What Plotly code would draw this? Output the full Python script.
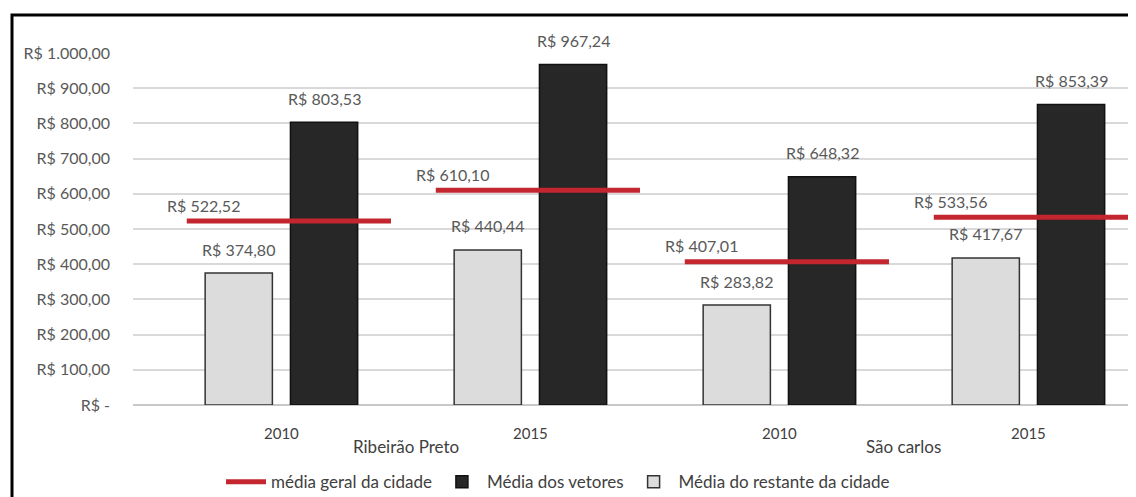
import numpy as np
import plotly.graph_objects as go

# ---- data ----
cities = ["Ribeirão Preto", "Ribeirão Preto", "São carlos", "São carlos"]
years = ["2010", "2015", "2010", "2015"]
city_names = ["Ribeirão Preto", "São carlos"]
media_restante = [374.80, 440.44, 283.82, 417.67]   # Média do restante da cidade
media_vetores = [803.53, 967.24, 648.32, 853.39]    # Média dos vetores
media_geral = [522.52, 610.10, 407.01, 533.56]      # média geral da cidade
y_tickvals = [0, 100, 200, 300, 400, 500, 600, 700, 800, 900, 1000]
y_ticktext = ["R$ -", "R$ 100,00", "R$ 200,00", "R$ 300,00", "R$ 400,00", "R$ 500,00",
              "R$ 600,00", "R$ 700,00", "R$ 800,00", "R$ 900,00", "R$ 1.000,00"]


def brl(v):
    s = f"{v:,.2f}"
    s = s.replace(",", "X").replace(".", ",").replace("X", ".")
    return "R$ " + s


FONT = "Lato, 'Open Sans', sans-serif"
TXT = "#595959"
RED = "#c3262e"

pos = np.arange(len(years))
bargap = 0.315
bar_off = (1 - bargap) / 4
line_l, line_r = 0.38, 0.44

fig = go.Figure()

# média geral line segments
lx, ly = [], []
for p, v in zip(pos, media_geral):
    lx += [p - line_l, p + line_r, None]
    ly += [v, v, None]

fig.add_trace(go.Bar(
    x=pos, y=media_restante, name="Média do restante da cidade",
    marker=dict(color="#dcdcdc", line=dict(color="#333333", width=1.5)),
    legendrank=3,
))
fig.add_trace(go.Bar(
    x=pos, y=media_vetores, name="Média dos vetores",
    marker=dict(color="#272727", line=dict(color="#111111", width=1.5)),
    legendrank=2,
))
fig.add_trace(go.Scatter(
    x=lx, y=ly, mode="lines", name="média geral da cidade",
    line=dict(color=RED, width=5), legendrank=1,
))

ann = []
for p, v in zip(pos, media_restante):
    ann.append(dict(x=p - bar_off, y=v, text=brl(v), showarrow=False,
                    yanchor="middle", yshift=24, font=dict(size=16, color=TXT)))
for p, v in zip(pos, media_vetores):
    ann.append(dict(x=p + bar_off, y=v, text=brl(v), showarrow=False,
                    yanchor="middle", yshift=24, font=dict(size=16, color=TXT)))
for p, v in zip(pos, media_geral):
    ann.append(dict(x=p - line_l, y=v, text=brl(v), showarrow=False,
                    xanchor="left", xshift=-22, yanchor="middle", yshift=16,
                    font=dict(size=16, color=TXT)))
for k, c in enumerate(city_names):
    ann.append(dict(x=2 * k + 0.5, y=-0.117, yref="paper", text=c, showarrow=False,
                    yanchor="middle", font=dict(size=17, color="#404040")))

# page body has an 8px default margin, so the figure is 8px smaller
fig.update_layout(
    width=1128, height=489,
    margin=dict(l=125, r=3, t=45, b=92, autoexpand=False),
    paper_bgcolor="white", plot_bgcolor="white",
    font=dict(family=FONT, color=TXT, size=15),
    barmode="group", bargap=bargap, bargroupgap=18 / 85,
    showlegend=True,
    legend=dict(orientation="h", x=0.425, xanchor="center", y=-0.219, yanchor="middle",
                font=dict(size=17, color="#404040"), itemwidth=40, tracegroupgap=0,
                traceorder="normal"),
    annotations=ann,
    shapes=[dict(type="rect", xref="paper", yref="paper", x0=-0.121, x1=1.2,
                 y0=-0.5, y1=1.108, line=dict(color="black", width=3), layer="above")],
)
fig.update_xaxes(range=[-0.596, 3.42], tickvals=pos, ticktext=years, showgrid=False,
                 zeroline=False, showline=False, ticks="", ticklabelstandoff=18,
                 automargin=False, tickfont=dict(size=15, color="#404040"))
fig.update_yaxes(range=[0, 1000], tickvals=y_tickvals, ticktext=y_ticktext,
                 showgrid=True, gridcolor="#d9d9d9", gridwidth=1.5, zeroline=True,
                 zerolinecolor="#c8c8c8", zerolinewidth=1.5, ticks="",
                 automargin=False, ticklabelstandoff=22, tickfont=dict(size=16, color=TXT))

fig.write_html("out.html")
